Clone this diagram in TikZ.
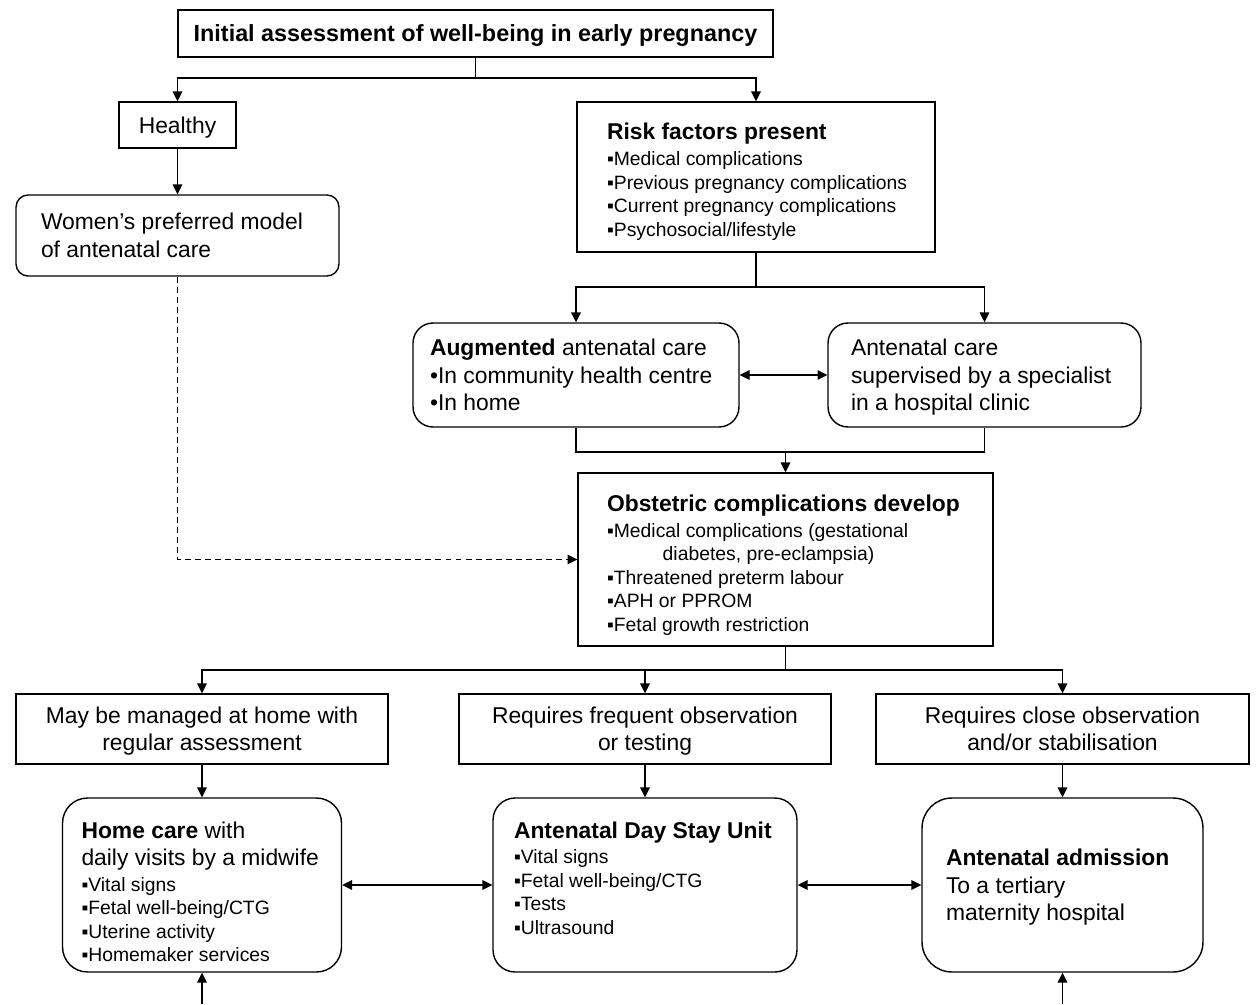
\documentclass[tikz,border=0pt]{standalone}
\usepackage{fontspec}
\setmainfont{Liberation Sans}
\usetikzlibrary{arrows.meta}
\newcommand\largefont{\fontsize{13}{15.6}\selectfont}
\newcommand\listfont{\fontsize{11}{13.3}\selectfont}
\newcommand\zerodepth[1]{\raisebox{0pt}[\height][0pt]{#1}}
\newcommand\topgap[1]{\rule{0pt}{#1}}

\begin{document}
\begin{tikzpicture}[x=0.02cm,y=-0.02cm,
				every node/.style={draw,line width=0.8pt,inner sep=0pt,font=\largefont,
					execute at begin node={\lineskiplimit=-20pt\relax}},
				sqbox/.style 2 args={rectangle,minimum width=#1,minimum height=#2,align=center},
				listbox/.style n args={3}{rectangle,minimum width=#1,minimum height=#2,text width=#3,align=flush left},
				rndbox/.style={rounded corners=#1},
				link/.style={line width=0.8pt},
				arr/.style={line width=0.8pt,-{Triangle[length=5.6pt,width=5.4pt]}},
				darr/.style={line width=0.8pt,{Triangle[length=5.6pt,width=5.4pt]}-{Triangle[length=5.6pt,width=5.4pt]}}]
\useasboundingbox (0,0) rectangle (1257,1004);

% top of the chart
\node[sqbox={11.9cm}{0.94cm}] (init) at (475.5,33.5) {\fontsize{13.3}{16}\selectfont\zerodepth{\textbf{Initial assessment of well-being in early pregnancy}}};
\node[sqbox={2.34cm}{0.92cm}] (healthy) at (177.5,125) {\zerodepth{Healthy}};
\node[listbox={6.46cm}{1.62cm}{5.46cm},rndbox=0.24cm] (women) at (177.5,235.5)
	{\mbox{Women's preferred model}\\of antenatal care\par};
\node[listbox={7.16cm}{3cm}{5.96cm}] (risk) at (756,177)
	{\topgap{14.3pt}\textbf{Risk factors present}\\[2pt]
	\listfont ▪Medical complications\\
	\mbox{▪Previous pregnancy complications}\\
	▪Current pregnancy complications\\
	▪Psychosocial/lifestyle\par};
\node[listbox={6.52cm}{2.08cm}{5.84cm},rndbox=0.4cm] (aug) at (576,375)
	{\textbf{Augmented} antenatal care\\\mbox{•In community health centre}\\•In home\par};
\node[listbox={6.26cm}{2.08cm}{5.34cm},rndbox=0.4cm] (hosp) at (984.5,375)
	{Antenatal care\\\mbox{supervised by a specialist}\\\zerodepth{in a hospital clinic}\par};

% complications
\node[listbox={8.3cm}{3.46cm}{7.14cm}] (obst) at (785.5,559.5)
	{\topgap{15.7pt}\mbox{\textbf{Obstetric complications develop}}\\[1.5pt]
	\listfont ▪Medical complications (gestational\\
	\hspace*{31.7pt}diabetes, pre-eclampsia)\\
	▪Threatened preterm labour\\
	▪APH or PPROM\\
	▪Fetal growth restriction\par};

% three levels of care
\node[sqbox={7.44cm}{1.4cm}] (mh) at (202,729) {May be managed at home with\\\zerodepth{regular assessment}};
\node[sqbox={7.44cm}{1.4cm}] (rf) at (645,729) {Requires frequent observation\\\zerodepth{or testing}};
\node[sqbox={7.46cm}{1.4cm}] (rc) at (1062.5,729) {Requires close observation\\and/or stabilisation};

\node[listbox={5.58cm}{3.48cm}{4.82cm},rndbox=0.5cm] (home) at (202,885)
	{\topgap{17.1pt}\textbf{Home care} with\\
	\mbox{daily visits by a midwife}\\[1.2pt]
	\listfont ▪Vital signs\\
	▪Fetal well-being/CTG\\
	▪Uterine activity\\
	▪Homemaker services\par};
\node[listbox={6.08cm}{3.48cm}{5.24cm},rndbox=0.44cm] (day) at (645,885)
	{\mbox{\textbf{Antenatal Day Stay Unit}}\\[1pt]
	\listfont ▪Vital signs\\
	▪Fetal well-being/CTG\\
	▪Tests\\
	▪Ultrasound\rule[-7.8pt]{0pt}{7.8pt}\par};
\node[listbox={5.62cm}{3.48cm}{4.66cm},rndbox=0.6cm] (adm) at (1062.5,885)
	{\mbox{\textbf{Antenatal admission}}\\To a tertiary\\\zerodepth{maternity hospital}\par};

\coordinate (j1) at (475.5,78);
\coordinate (j2) at (756,287);
\coordinate (j3) at (785.5,452);
\coordinate (j4) at (785.5,670);
\coordinate (b1) at (202,1004);
\coordinate (b2) at (1062.5,1004);

\draw[link] (init) -- (j1);
\draw[arr] (j1) -| (healthy);
\draw[arr] (j1) -| (risk);
\draw[arr] (healthy) -- (women);
\draw[arr,dash pattern=on 3.4pt off 2.3pt] (women) |- (obst);
\draw[link] (risk) -- (j2);
\draw[arr] (j2) -| (aug);
\draw[arr] (j2) -| (hosp);
\draw[darr] (aug) -- (hosp);
\draw[link] (aug) |- (j3) -| (hosp);
\draw[arr] (j3) -- (obst);
\draw[link] (obst) -- (j4);
\draw[arr] (j4) -| (mh);
\draw[arr] (j4) -| (rf);
\draw[arr] (j4) -| (rc);
\draw[arr] (mh) -- (home);
\draw[arr] (rf) -- (day);
\draw[arr] (rc) -- (adm);
\draw[darr] (home) -- (day);
\draw[darr] (day) -- (adm);
\draw[arr] (b1) -- (home);
\draw[arr] (b2) -- (adm);
\end{tikzpicture}
\end{document}
